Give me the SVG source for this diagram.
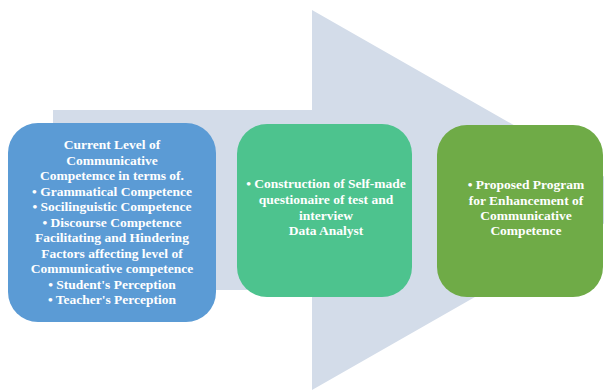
<svg xmlns="http://www.w3.org/2000/svg" width="604" height="390" viewBox="0 0 604 390">
<style>
.t{font-family:"Liberation Serif","DejaVu Serif",serif;font-size:13.5px;font-weight:bold;fill:#fff;text-anchor:middle}
</style>
<rect width="604" height="390" fill="#fff"/>
<g id="arrow">
<polygon points="53,110 312,110 312,10 645,200 312,390 312,290 53,290" fill="#D3DCE9"/>
</g>
<g id="connectors"></g>
<g id="node1">
<rect x="8" y="123" width="208" height="199" rx="30" fill="#5B9BD5"/>
<text class="t" x="112" y="149">Current Level of</text>
<text class="t" x="112" y="164.5">Communicative</text>
<text class="t" x="112" y="180">Competemce in terms of.</text>
<text class="t" x="112" y="195.5">• Grammatical Competence</text>
<text class="t" x="112" y="211">• Socilinguistic Competence</text>
<text class="t" x="112" y="226.5">• Discourse Competence</text>
<text class="t" x="112" y="242">Facilitating and Hindering</text>
<text class="t" x="112" y="257.5">Factors affecting level of</text>
<text class="t" x="112" y="273">Communicative competence</text>
<text class="t" x="112" y="288.5">• Student's Perception</text>
<text class="t" x="112" y="304">• Teacher's Perception</text>
</g>
<g id="node2">
<rect x="237" y="124" width="175" height="173" rx="30" fill="#4DC38E"/>
<text class="t" x="326" y="188">• Construction of Self-made</text>
<text class="t" x="326" y="204">questionaire of test and</text>
<text class="t" x="326" y="220">interview</text>
<text class="t" x="326" y="235">Data Analyst</text>
</g>
<g id="node3">
<rect x="437" y="125" width="166" height="172" rx="30" fill="#6FAB47"/>
<text class="t" x="526" y="189">• Proposed Program</text>
<text class="t" x="526" y="204.5">for Enhancement of</text>
<text class="t" x="526" y="220">Communicative</text>
<text class="t" x="526" y="235">Competence</text>
</g>
</svg>
